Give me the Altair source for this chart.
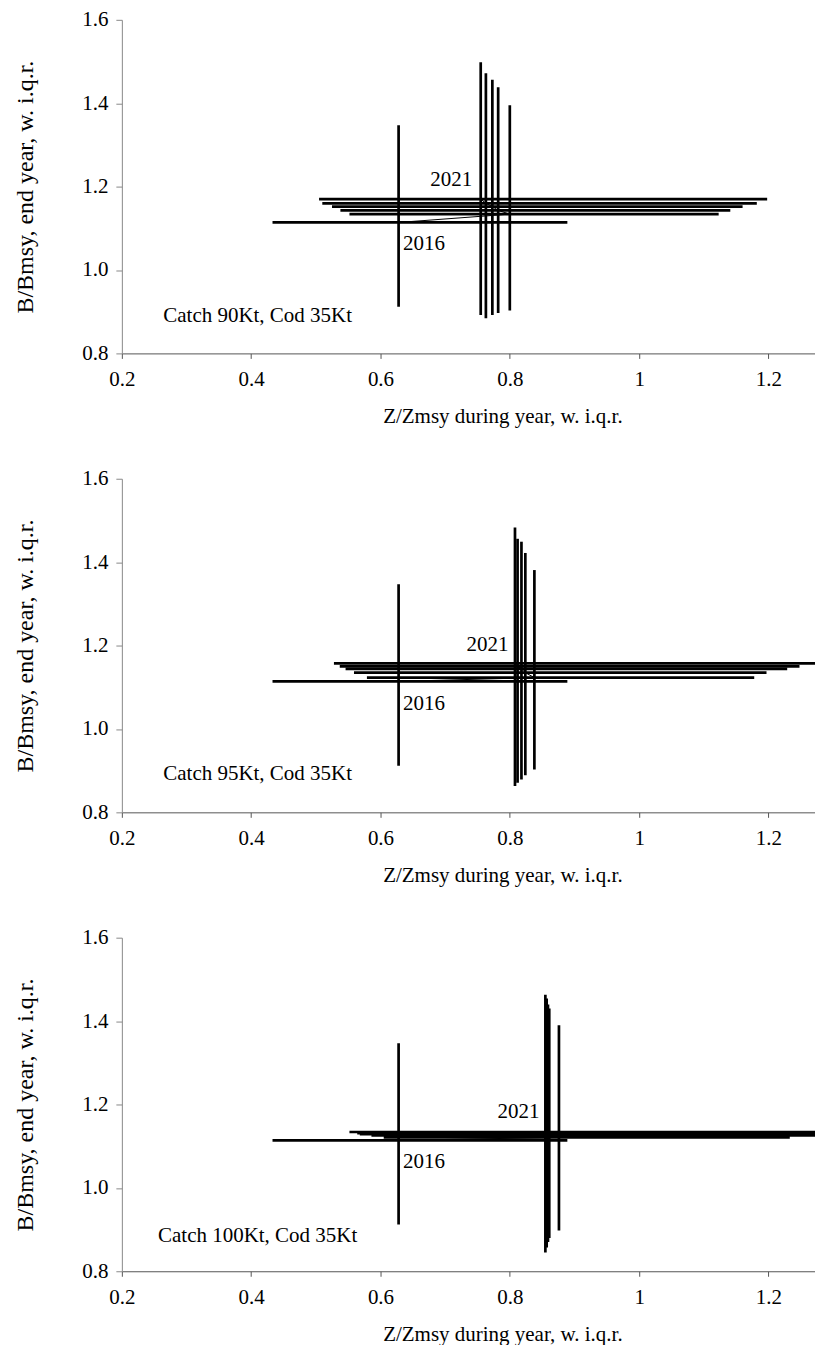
import altair as alt
import pandas as pd

YEARS = [2016, 2017, 2018, 2019, 2020, 2021]

# Panel 1: Catch 90Kt, Cod 35Kt
p1_z_med = [0.628, 0.800, 0.782, 0.773, 0.763, 0.755]
p1_z_lo = [0.433, 0.552, 0.538, 0.525, 0.510, 0.505]
p1_z_hi = [0.889, 1.123, 1.141, 1.160, 1.182, 1.198]
p1_b_med = [1.114, 1.134, 1.143, 1.152, 1.160, 1.170]
p1_b_lo = [0.912, 0.903, 0.897, 0.892, 0.884, 0.892]
p1_b_hi = [1.347, 1.395, 1.438, 1.456, 1.472, 1.498]

# Panel 2: Catch 95Kt, Cod 35Kt
p2_z_med = [0.628, 0.838, 0.824, 0.818, 0.812, 0.808]
p2_z_lo = [0.433, 0.579, 0.559, 0.546, 0.537, 0.528]
p2_z_hi = [0.889, 1.178, 1.197, 1.229, 1.248, 1.272]
p2_b_med = [1.114, 1.123, 1.135, 1.144, 1.150, 1.157]
p2_b_lo = [0.912, 0.903, 0.889, 0.879, 0.871, 0.863]
p2_b_hi = [1.347, 1.381, 1.422, 1.449, 1.456, 1.483]

# Panel 3: Catch 100Kt, Cod 35Kt
p3_z_med = [0.628, 0.876, 0.861, 0.859, 0.857, 0.855]
p3_z_lo = [0.433, 0.605, 0.586, 0.568, 0.564, 0.552]
p3_z_hi = [0.889, 1.233, 1.320, 1.340, 1.360, 1.380]
p3_b_med = [1.114, 1.121, 1.126, 1.129, 1.131, 1.134]
p3_b_lo = [0.912, 0.898, 0.880, 0.870, 0.857, 0.845]
p3_b_hi = [1.347, 1.390, 1.430, 1.440, 1.454, 1.463]

# Annotations per panel
p1_labels = ["2016", "2021", "Catch 90Kt, Cod 35Kt"]
p1_lab_x = [0.635, 0.742, 0.41]
p1_lab_y = [1.063, 1.216, 0.889]
p2_labels = ["2016", "2021", "Catch 95Kt, Cod 35Kt"]
p2_lab_x = [0.635, 0.798, 0.41]
p2_lab_y = [1.060, 1.202, 0.891]
p3_labels = ["2016", "2021", "Catch 100Kt, Cod 35Kt"]
p3_lab_x = [0.635, 0.846, 0.41]
p3_lab_y = [1.063, 1.181, 0.884]
lab_align = ["left", "right", "center"]

X_TICKS = [0.2, 0.4, 0.6, 0.8, 1.0, 1.2]
Y_TICKS = [0.8, 1.0, 1.2, 1.4, 1.6]
X_DOMAIN = [0.2, 1.272]
Y_DOMAIN = [0.8, 1.6]
FONT = "Liberation Serif"
FS = 21

xscale = alt.Scale(domain=X_DOMAIN, zero=False, nice=False)
yscale = alt.Scale(domain=Y_DOMAIN, zero=False, nice=False)

xaxis = alt.Axis(
    values=X_TICKS,
    labelExpr="datum.value == 1 ? '1' : format(datum.value, '.1f')",
    title="Z/Zmsy during year, w. i.q.r.",
    tickSize=5, labelPadding=10, titlePadding=16, titleX=381,
    labelFlush=False,
    domainColor="#555555", tickColor="#555555", grid=False,
)
yaxis = alt.Axis(
    values=Y_TICKS, format=".1f",
    title="B/Bmsy, end year, w. i.q.r.",
    tickSize=6, labelPadding=8, titlePadding=44, titleFontSize=24,
    labelFlush=False,
    domainColor="#888888", tickColor="#888888", grid=False,
)


def X(field):
    return alt.X(field, type="quantitative", scale=xscale, axis=xaxis)


def Y(field):
    return alt.Y(field, type="quantitative", scale=yscale, axis=yaxis)


def panel(z_med, z_lo, z_hi, b_med, b_lo, b_hi, labels, lx, ly):
    df = pd.DataFrame({
        "year": YEARS, "z_med": z_med, "z_lo": z_lo, "z_hi": z_hi,
        "b_med": b_med, "b_lo": b_lo, "b_hi": b_hi,
    })
    lab = pd.DataFrame({"text": labels, "x": lx, "y": ly, "align": lab_align})

    horiz = alt.Chart(df).mark_rule(color="black", strokeWidth=2.7, clip=True).encode(
        x=X("z_lo"), x2="z_hi:Q", y=Y("b_med"),
    )
    vert = alt.Chart(df).mark_rule(color="black", strokeWidth=2.7, clip=True).encode(
        x=X("z_med"), y=Y("b_lo"), y2="b_hi:Q",
    )
    traj = alt.Chart(df).mark_line(color="black", strokeWidth=1, clip=True).encode(
        x=X("z_med"), y=Y("b_med"), order="year:O",
    )
    texts = []
    for a in ["left", "right", "center"]:
        texts.append(
            alt.Chart(lab).transform_filter(alt.datum.align == a)
            .mark_text(align=a, baseline="middle", font=FONT, fontSize=FS, color="black")
            .encode(x=X("x"), y=Y("y"), text="text:N")
        )
    return alt.layer(traj, horiz, vert, *texts).properties(width=694, height=334)


c1 = panel(p1_z_med, p1_z_lo, p1_z_hi, p1_b_med, p1_b_lo, p1_b_hi, p1_labels, p1_lab_x, p1_lab_y)
c2 = panel(p2_z_med, p2_z_lo, p2_z_hi, p2_b_med, p2_b_lo, p2_b_hi, p2_labels, p2_lab_x, p2_lab_y)
c3 = panel(p3_z_med, p3_z_lo, p3_z_hi, p3_b_med, p3_b_lo, p3_b_hi, p3_labels, p3_lab_x, p3_lab_y)

chart = (
    alt.vconcat(c1, c2, c3, spacing=41.5)
    .properties(padding={"left": 5, "top": 0, "right": 0, "bottom": 0})
    .configure_axis(
        labelFont=FONT, titleFont=FONT, labelFontSize=FS, titleFontSize=FS,
        labelColor="black", titleColor="black", titleFontWeight="normal",
    )
    .configure_view(stroke=None)
)

chart.save("out.html", embed_options={"renderer": "svg", "actions": False})
